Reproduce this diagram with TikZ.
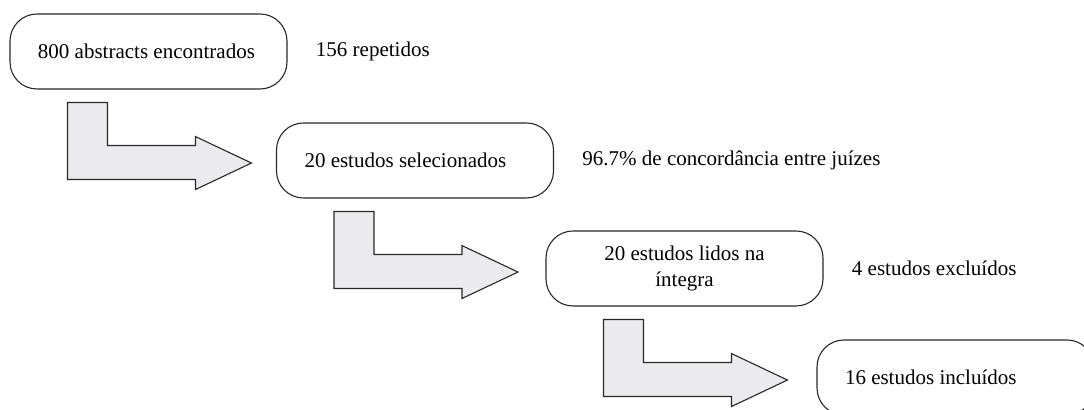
\documentclass[tikz,border=0pt]{standalone}
\usepackage{fontspec}
\setmainfont{Liberation Serif}
\usetikzlibrary{positioning,calc}

\definecolor{arrowgray}{RGB}{235,235,237}
\definecolor{linegray}{RGB}{40,40,40}

\tikzset{
  stagebox/.style={draw=linegray, line width=0.55pt, rounded corners=13.5pt,
    minimum width=138.5pt, minimum height=37.5pt, inner xsep=14pt, inner ysep=0pt},
  note/.style={anchor=west, inner sep=0pt},
  blockarrow/.style={fill=arrowgray, draw=linegray, line width=0.55pt, line join=miter}
}

% left-set text inside a stage box
\newcommand{\boxtext}[1]{\makebox[110.5pt][l]{#1}}

% bent block arrow, hanging below a stage box
\newcommand{\bentarrow}[1]{%
  \filldraw[blockarrow] ($(#1.south west)+(58,13)$) -- ++(40,0) -- ++(0,43) -- ++(88,0)
    -- ++(0,-9) -- ++(56,26.5) -- ++(-56,26.5) -- ++(0,-10) -- ++(-128,0) -- cycle;}

\begin{document}
\begin{tikzpicture}[x=0.5pt,y=-0.5pt,font=\fontsize{10.5}{12.6}\selectfont]
\useasboundingbox (0,0) rectangle (1084,410);
\clip (0,0) rectangle (1084,410);

% Stages
\node[stagebox] (found) at (148.5,51.5) {\boxtext{800 abstracts encontrados}};
\node[stagebox] (selected) at (415,160.5) {\boxtext{20 estudos selecionados}};
\node[stagebox] (read) at (684.5,268.5) {\begin{tabular}{@{}c@{}}20 estudos lidos na\\íntegra\end{tabular}};
\node[stagebox] (included) at (955.5,377.5) {\boxtext{16 estudos incluídos}};

% Side notes
\node[note, right=14pt of found] (repeated) {156 repetidos};
\node[note, right=14pt of selected] (agreement) {96.7\% de concordância entre juízes};
\node[note, right=14pt of read] (excluded) {4 estudos excluídos};

% Arrows
\bentarrow{found}
\bentarrow{selected}
\bentarrow{read}
\end{tikzpicture}
\end{document}
